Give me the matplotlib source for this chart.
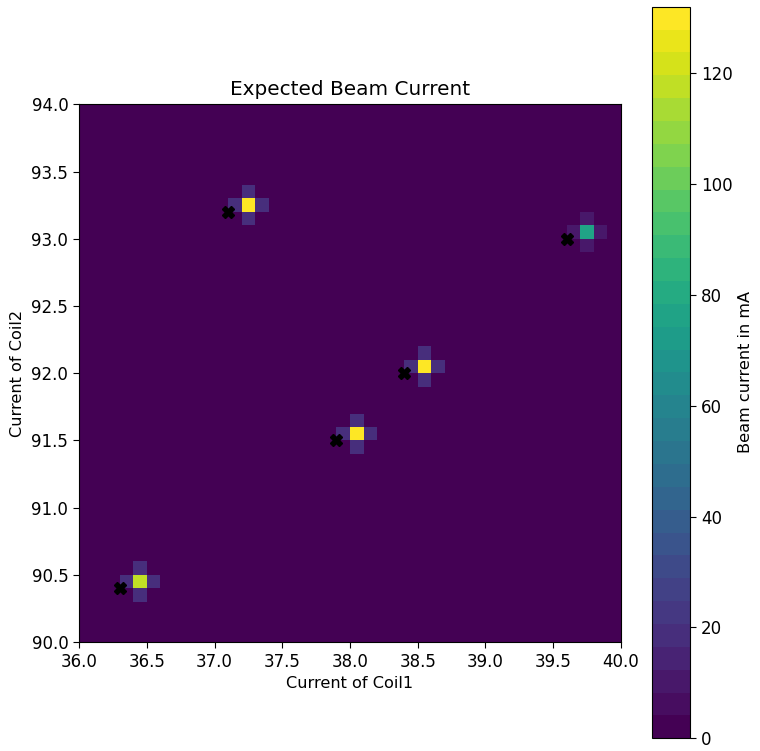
import numpy as np
import matplotlib
matplotlib.use("Agg")
import matplotlib.pyplot as plt

# grid of coil currents (cell edges)
coil1_edges = np.linspace(36.0, 40.0, 41)
coil2_edges = np.linspace(90.0, 94.0, 41)

# lower-left corner of the bright cell of each spot
spot_x = [36.4, 37.2, 38.0, 38.5, 39.7]
spot_y = [90.4, 93.2, 91.5, 92.0, 93.0]
spot_peak = [118, 132, 128, 132, 78]
spot_side = [17, 18, 18, 18, 12]

# measured points
meas_x = [36.3, 37.1, 37.9, 38.4, 39.6]
meas_y = [90.4, 93.2, 91.5, 92.0, 93.0]

Z = np.zeros((40, 40))
for x, y, p, s in zip(spot_x, spot_y, spot_peak, spot_side):
    i = int(round((y - 90.0) / 0.1))
    j = int(round((x - 36.0) / 0.1))
    Z[i, j] = p
    for di, dj in [(1, 0), (-1, 0), (0, 1), (0, -1)]:
        Z[i + di, j + dj] = s

plt.rcParams["font.size"] = 12
plt.rcParams["xtick.major.size"] = 4.2
plt.rcParams["ytick.major.size"] = 4.2

cmap = plt.get_cmap("viridis", 32)

fig = plt.figure(figsize=(7.6, 7.51), dpi=100)
ax = fig.add_axes([0.104, 0.145, 0.713, 0.716])
cax = fig.add_axes([0.858, 0.017, 0.050, 0.974])

mesh = ax.pcolormesh(coil1_edges, coil2_edges, Z, cmap=cmap, vmin=0, vmax=132)
ax.plot(meas_x, meas_y, "kX", markersize=9, linestyle="none")
ax.set_xlim(36, 40)
ax.set_ylim(90, 94)
ax.set_xticks(np.arange(36, 40.01, 0.5))
ax.set_yticks(np.arange(90, 94.01, 0.5))
ax.set_xlabel("Current of Coil1", fontsize=11.6, labelpad=4)
ax.set_ylabel("Current of Coil2", fontsize=11.6, labelpad=5)
ax.set_title("Expected Beam Current", fontsize=14.4, pad=7)

cb = fig.colorbar(mesh, cax=cax)
cb.set_ticks([0, 20, 40, 60, 80, 100, 120])
cb.set_label("Beam current in mA", fontsize=11.6)

fig.savefig("out.png", dpi=100)
